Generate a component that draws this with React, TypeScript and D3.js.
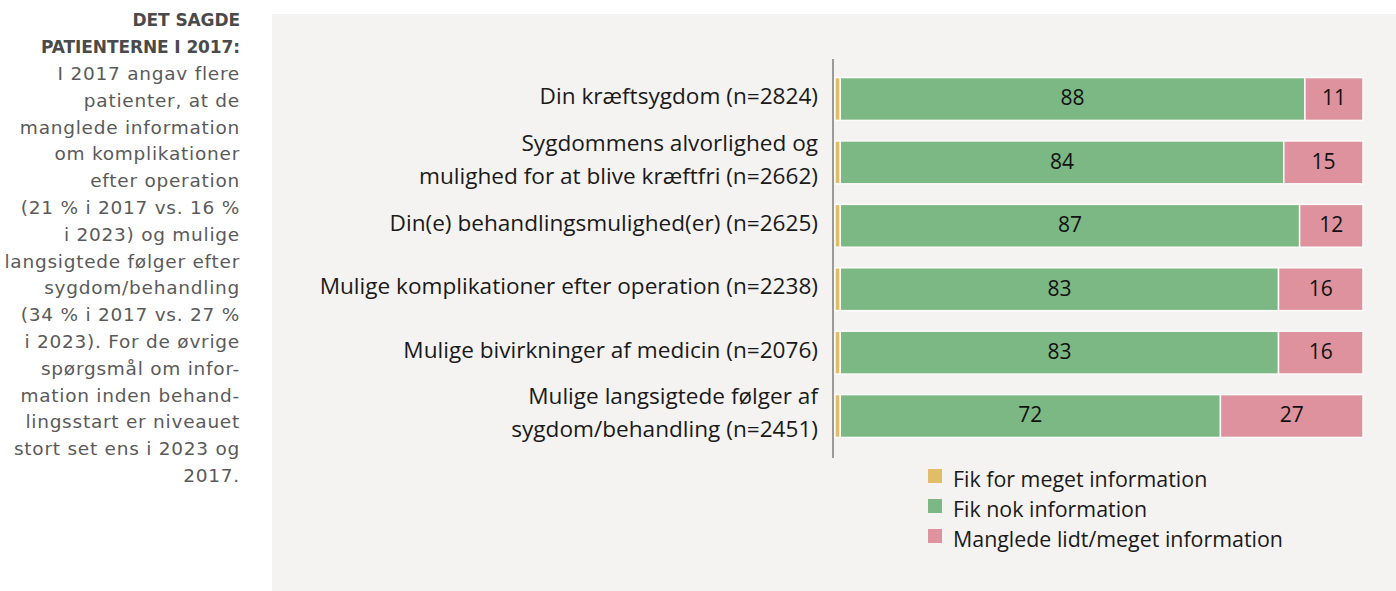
import React, { useEffect, useRef } from 'react';
import * as d3 from 'd3';

// spørgsmål (labels kan have to linjer)
const questions = [
  ['Din kræftsygdom'],
  ['Sygdommens alvorlighed og', 'mulighed for at blive kræftfri'],
  ['Din(e) behandlingsmulighed(er)'],
  ['Mulige komplikationer efter operation'],
  ['Mulige bivirkninger af medicin'],
  ['Mulige langsigtede følger af', 'sygdom/behandling'],
];
const nValues = [2824, 2662, 2625, 2238, 2076, 2451];

// serier i procent
const tooMuch = [1, 1, 1, 1, 1, 1];
const enough = [88, 84, 87, 83, 83, 72];
const lacking = [11, 15, 12, 16, 16, 27];

const seriesNames = ['Fik for meget information', 'Fik nok information', 'Manglede lidt/meget information'];
const seriesColors = ['#e0bd66', '#7bb883', '#dd929d'];

const sideHeading = ['DET SAGDE', 'PATIENTERNE I 2017:'];
const sideText = [
  'I 2017 angav flere',
  'patienter, at de',
  'manglede information',
  'om komplikationer',
  'efter operation',
  '(21 % i 2017 vs. 16 %',
  'i 2023) og mulige',
  'langsigtede følger efter',
  'sygdom/behandling',
  '(34 % i 2017 vs. 27 %',
  'i 2023). For de øvrige',
  'spørgsmål om infor-',
  'mation inden behand-',
  'lingsstart er niveauet',
  'stort set ens i 2023 og',
  '2017.',
];

const labelFont = '"Open Sans", sans-serif';
const sideFont = '"DejaVu Sans", sans-serif';

export default function App() {
  const ref = useRef<SVGSVGElement>(null);

  useEffect(() => {
    const width = 1396;
    const height = 591;
    const svg = d3.select(ref.current);
    svg.selectAll('*').remove();

    // tekst i venstre side
    const side = svg.append('g').attr('text-anchor', 'end').style('font-family', sideFont);
    const allSide = [...sideHeading, ...sideText];
    side.selectAll('text')
      .data(allSide)
      .enter().append('text')
        .attr('x', 240)
        .attr('y', (d, i) => 20 + i * 26.8)
        .attr('dy', '0.35em')
        .style('font-size', (d, i) => (i < sideHeading.length ? '17px' : '18.5px'))
        .style('letter-spacing', (d, i) => (i < sideHeading.length ? '-0.1px' : '0.75px'))
        .style('font-weight', (d, i) => (i < sideHeading.length ? 'bold' : 'normal'))
        .attr('fill', (d, i) => (i < sideHeading.length ? '#4a4a4a' : '#5a5a5a'))
        .text(d => d);

    // grå baggrund
    svg.append('rect')
      .attr('x', 272).attr('y', 14)
      .attr('width', width - 272).attr('height', height - 14)
      .attr('fill', '#f4f3f1');

    const rows = questions.map((q, i) => ({
      lines: q.map((l, j) => (j === q.length - 1 ? `${l} (n=${nValues[i]})` : l)),
      values: [tooMuch[i], enough[i], lacking[i]],
      key: String(i),
    }));

    const x = d3.scaleLinear().domain([0, 100]).range([835, 1363]);
    const y = d3.scaleBand().domain(rows.map(r => r.key)).range([57, 458]).padding(0.324);

    const g = svg.append('g');

    // akse
    g.append('line')
      .attr('x1', 833).attr('x2', 833)
      .attr('y1', y.range()[0] + 2).attr('y2', y.range()[1])
      .attr('stroke', '#9a9a9a').attr('stroke-width', 2);

    const stack = d3.stack<any>().keys(['0', '1', '2']).value((d, k) => d.values[+k]);
    const stacked = stack(rows);

    stacked.forEach((layer, si) => {
      g.selectAll(`rect.s${si}`)
        .data(layer)
        .enter().append('rect')
          .attr('class', `s${si}`)
          .attr('x', d => x(d[0]))
          .attr('y', d => y(d.data.key)!)
          .attr('width', d => x(d[1]) - x(d[0]))
          .attr('height', y.bandwidth())
          .attr('fill', seriesColors[si])
          .attr('stroke', '#fbfbfa')
          .attr('stroke-width', 1.5);

      if (si > 0) {
        g.selectAll(`text.v${si}`)
          .data(layer)
          .enter().append('text')
            .attr('class', `v${si}`)
            .attr('x', d => (x(d[0]) + x(d[1])) / 2)
            .attr('y', d => y(d.data.key)! + y.bandwidth() / 2 - 1)
            .attr('dy', '0.35em')
            .attr('text-anchor', 'middle')
            .style('font-family', labelFont)
            .style('font-size', '21px')
            .attr('fill', '#111')
            .text(d => d.data.values[si]);
      }
    });

    // kategori-labels
    const labels = g.selectAll('text.cat')
      .data(rows)
      .enter().append('text')
        .attr('class', 'cat')
        .attr('text-anchor', 'end')
        .style('font-family', labelFont)
        .style('font-size', '22.6px')
        .attr('fill', '#1a1a1a');
    labels.each(function (r) {
      const cy = y(r.key)! + y.bandwidth() / 2 - 3;
      const n = r.lines.length;
      d3.select(this).selectAll('tspan')
        .data(r.lines)
        .enter().append('tspan')
          .attr('x', 818)
          .attr('y', (d, j) => cy + (j - (n - 1) / 2) * 33)
          .attr('dy', '0.35em')
          .text(d => d);
    });

    // legende
    const legend = svg.append('g').attr('transform', 'translate(928, 469)');
    const items = legend.selectAll('g')
      .data(seriesNames)
      .enter().append('g')
        .attr('transform', (d, i) => `translate(0, ${i * 30})`);
    items.append('rect')
      .attr('width', 14).attr('height', 14)
      .attr('fill', (d, i) => seriesColors[i]);
    items.append('text')
      .attr('x', 25).attr('y', 10)
      .attr('dy', '0.35em')
      .style('font-family', labelFont)
      .style('font-size', '21.4px')
      .attr('fill', '#1a1a1a')
      .text(d => d);
  }, []);

  return (
    <svg
      ref={ref}
      width={1396}
      height={591}
      style={{ position: 'absolute', left: 0, top: 0, background: '#fff' }}
    />
  );
}
